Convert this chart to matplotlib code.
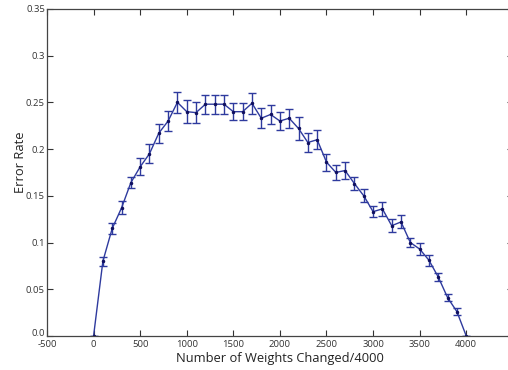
import matplotlib
matplotlib.use("Agg")
import matplotlib.pyplot as plt
import matplotlib.transforms as mtransforms

weights_changed = list(range(0, 4001, 100))
error_rate = [0.0, 0.080, 0.115, 0.137, 0.164, 0.181, 0.195, 0.217, 0.230, 0.250,
              0.240, 0.239, 0.248, 0.248, 0.248, 0.240, 0.240, 0.249, 0.233, 0.237,
              0.230, 0.233, 0.222, 0.207, 0.210, 0.186, 0.175, 0.177, 0.163, 0.150,
              0.133, 0.136, 0.118, 0.122, 0.100, 0.093, 0.081, 0.063, 0.041, 0.026, 0.0]
error_bar = [0.0, 0.005, 0.006, 0.007, 0.006, 0.009, 0.010, 0.010, 0.011, 0.011,
             0.012, 0.011, 0.010, 0.010, 0.010, 0.009, 0.009, 0.011, 0.011, 0.010,
             0.010, 0.010, 0.012, 0.010, 0.010, 0.009, 0.008, 0.009, 0.007, 0.007,
             0.006, 0.0075, 0.007, 0.007, 0.005, 0.006, 0.006, 0.004, 0.004, 0.004, 0.0]
x_ticks = [-500, 0, 500, 1000, 1500, 2000, 2500, 3000, 3500, 4000, 4500]
x_tick_labels = ["-500", "0", "500", "1000", "1500", "2000", "2500", "3000", "3500", "4000", ""]
y_ticks = [0.0, 0.05, 0.1, 0.15, 0.2, 0.25, 0.3, 0.35]
y_tick_labels = ["0.0", "0.05", "0.1", "0.15", "0.2", "0.25", "0.3", "0.35"]

plt.rcParams['font.family'] = ['Open Sans', 'DejaVu Sans']

fig = plt.figure(figsize=(5.08, 3.70), dpi=100)
ax = fig.add_axes([0.0925, 0.092, 0.917, 0.884])

line_color = '#2e3a9e'
ax.errorbar(weights_changed, error_rate, yerr=error_bar, color=line_color,
            ecolor=line_color, elinewidth=1.0, capsize=3, capthick=1.0,
            linewidth=1.0, marker='.', markersize=3, markerfacecolor='#101060',
            markeredgecolor='#101060')

ax.set_xlim(-500, 4500)
ax.set_ylim(0, 0.35)
ax.set_xticks(x_ticks)
ax.set_xticklabels(x_tick_labels)
ax.set_yticks(y_ticks)
ax.set_yticklabels(y_tick_labels)
ax.tick_params(direction='in', top=True, right=True, length=4, width=0.8,
               labelsize=6.8, colors='#333333')
ax.tick_params(axis='x', pad=3)
ax.tick_params(axis='y', pad=1.5)
for s in ax.spines.values():
    s.set_color('#444444')
    s.set_linewidth(0.9)

# nudge the "0.0" label up slightly, as in the reference
lbl0 = ax.get_yticklabels()[0]
lbl0.set_transform(lbl0.get_transform() +
                   mtransforms.ScaledTranslation(0, 2.5 / 72, fig.dpi_scale_trans))

ax.set_xlabel("Number of Weights Changed/4000", fontsize=9.3, color='#222222')
ax.xaxis.set_label_coords(0.50, -0.048, transform=ax.transAxes)
ax.xaxis.label.set_va('top')
ax.set_ylabel("Error Rate", fontsize=9.3, color='#222222')
ax.yaxis.set_label_coords(-0.043, 0.532, transform=ax.transAxes)

fig.savefig("out.png", dpi=100)
